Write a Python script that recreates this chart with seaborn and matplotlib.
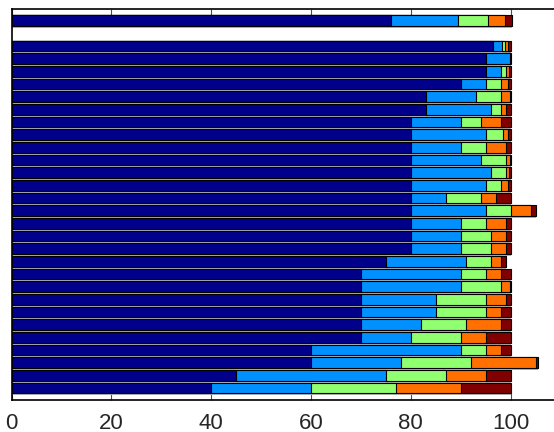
import matplotlib
matplotlib.use("Agg")
import matplotlib.pyplot as plt
import matplotlib.patheffects as pe
import pandas as pd
import seaborn as sns

# bar slots top to bottom (slot 1 is left empty)
rows = [0] + list(range(2, 30))

# five stacked segments per bar
seg_a = [76, 96.5, 95, 95, 90, 83, 83, 80, 80, 80, 80, 80, 80, 80, 80, 80, 80, 80,
         75, 70, 70, 70, 70, 70, 70, 60, 60, 45, 40]
seg_b = [13.5, 1.8, 4.8, 3, 5, 10, 13, 10, 15, 10, 14, 16, 15, 7, 15, 10, 10, 10,
         16, 20, 20, 15, 15, 12, 10, 30, 18, 30, 20]
seg_c = [6, 0.5, 0, 1, 3, 5, 2, 4, 3.4, 5, 5, 3, 3, 7, 5, 5, 6, 6,
         5, 5, 8, 10, 10, 9, 10, 5, 14, 12, 17]
seg_d = [3.4, 0.6, 0, 0.7, 1.4, 1.8, 1, 4, 1, 4, 0.8, 0.7, 1.4, 3, 4, 4, 3, 3,
         2, 3, 1.8, 4, 3, 7, 5, 3, 13, 8, 13]
seg_e = [1.4, 0.6, 0.3, 0.3, 0.6, 0.3, 1, 2, 0.6, 1, 0.3, 0.3, 0.6, 3, 1, 1, 1, 1,
         1, 2, 0.3, 1, 2, 2, 5, 2, 0.4, 5, 10]

colors = ["#00008b", "#0090ff", "#90ff70", "#ff7000", "#800000"]

sns.set_style("ticks")
plt.rcParams["font.family"] = ["Liberation Sans", "DejaVu Sans"]

df = pd.DataFrame({"row": rows, "a": seg_a, "b": seg_b, "c": seg_c, "d": seg_d, "e": seg_e})
segs = ["a", "b", "c", "d", "e"]
cum = df[segs].cumsum(axis=1)

fig = plt.figure(figsize=(5.54, 4.32), dpi=100)
ax = fig.add_axes([0.021, 0.074, 0.979, 0.906])

shadow = [pe.SimplePatchShadow(offset=(0, -1.4), shadow_rgbFace="0.7", alpha=1), pe.Normal()]

# draw cumulative totals from longest to shortest so each segment shows
for seg, col in reversed(list(zip(segs, colors))):
    sns.barplot(x=cum[seg], y=df["row"], orient="h", native_scale=True,
                color=col, saturation=1, width=0.86, edgecolor="black",
                linewidth=0.8, ax=ax)

for p in ax.patches:
    p.set_path_effects(shadow)

ax.set_xlim(0, 108.7)
ax.set_ylim(29.95, -0.95)
ax.set_xticks([0, 20, 40, 60, 80, 100])
ax.set_yticks([])
ax.set_xlabel("")
ax.set_ylabel("")
ax.tick_params(axis="x", direction="in", length=5, width=0.8, top=True,
               labelsize=16, pad=9, color="0.3")
for side in ["top", "bottom", "left"]:
    ax.spines[side].set_linewidth(1.2)
    ax.spines[side].set_color("black")
ax.spines["right"].set_visible(False)

fig.savefig("out.png", dpi=100)
